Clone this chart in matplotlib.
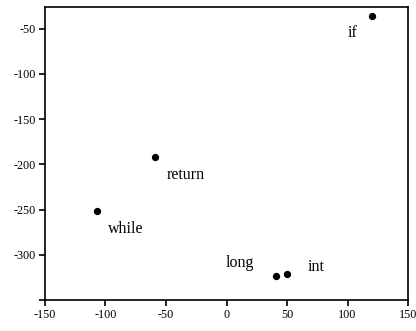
import matplotlib
matplotlib.use('Agg')
import matplotlib.pyplot as plt

# Data
words = ['if', 'return', 'while', 'long', 'int']
x_vals = [120, -59, -107, 41, 50]
y_vals = [-36, -192, -252, -324, -321]

# Label offsets in points (dx, dy) and alignment
offsets = [(-10, -12), (8, -13), (8, -13), (-16, 10), (15, 5)]
aligns = ['right', 'left', 'left', 'right', 'left']

x_ticks = [-150, -100, -50, 0, 50, 100, 150]
y_ticks = [-350, -300, -250, -200, -150, -100, -50]
y_tick_labels = ['', '-300', '-250', '-200', '-150', '-100', '-50']

plt.rcParams['font.family'] = ['Liberation Serif', 'DejaVu Serif']
plt.rcParams['axes.unicode_minus'] = False

fig = plt.figure(figsize=(4.16, 3.31), dpi=100)
ax = fig.add_axes([45 / 416, 31 / 331, 363 / 416, 293 / 331])

ax.scatter(x_vals, y_vals, s=18, color='black', zorder=3)

for w, x, y, (dx, dy), ha in zip(words, x_vals, y_vals, offsets, aligns):
    ax.annotate(w, (x, y), xytext=(dx, dy), textcoords='offset points',
                ha=ha, va='center', fontsize=11.5)

ax.set_xlim(-150, 150)
ax.set_ylim(-350, -26)
ax.set_xticks(x_ticks)
ax.set_yticks(y_ticks)
ax.set_yticklabels(y_tick_labels)
ax.tick_params(length=4.5, width=1.2, labelsize=8.7, pad=2)

for s in ax.spines.values():
    s.set_linewidth(1.2)

fig.savefig('out.png', dpi=100)
